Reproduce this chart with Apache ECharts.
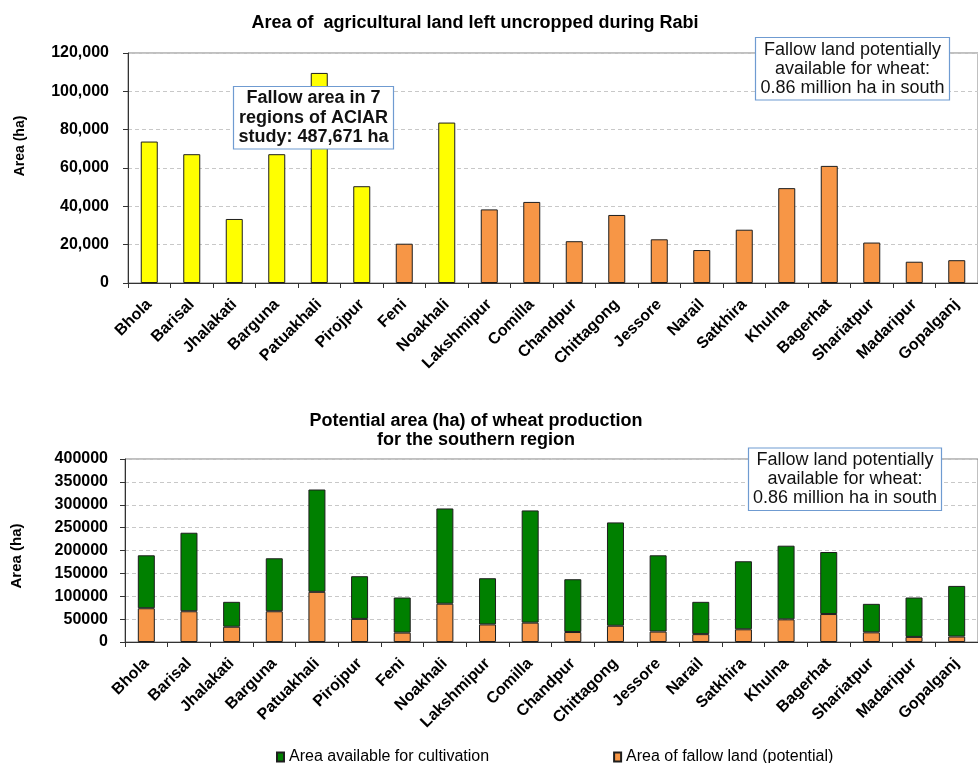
<!DOCTYPE html>
<html>
<head>
<meta charset="utf-8">
<title>Fallow land and potential wheat area, southern Bangladesh</title>
<script src="https://cdn.jsdelivr.net/npm/echarts@6/dist/echarts.min.js"></script>
<style>
  html, body { margin: 0; padding: 0; background: #fff; }
  #chart { width: 978px; height: 763px; }
</style>
</head>
<body>
<div id="chart"></div>
<script>
// Districts of the southern region
const regions = ['Bhola', 'Barisal', 'Jhalakati', 'Barguna', 'Patuakhali', 'Pirojpur', 'Feni',
  'Noakhali', 'Lakshmipur', 'Comilla', 'Chandpur', 'Chittagong', 'Jessore', 'Narail',
  'Satkhira', 'Khulna', 'Bagerhat', 'Shariatpur', 'Madaripur', 'Gopalganj'];

// Districts covered by the ACIAR study (highlighted in yellow)
const aciarRegions = ['Bhola', 'Barisal', 'Jhalakati', 'Barguna', 'Patuakhali', 'Pirojpur', 'Noakhali'];

// Agricultural land left uncropped during Rabi (ha)
const fallowArea = [73800, 67200, 33400, 67200, 109600, 50500, 20500, 83700, 38400, 42300,
  21800, 35500, 22800, 17200, 27800, 49500, 61100, 21100, 11100, 11900];

// Additional area available for cultivation (ha), stacked above the fallow area
const cultivableArea = [115700, 171600, 54400, 115800, 223700, 93300, 76700, 208200, 101000, 245300,
  115400, 225900, 166700, 70600, 148700, 161000, 135600, 62300, 86100, 110700];

// Value-axis ranges
const topAxis = { max: 120000, interval: 20000 };
const bottomAxis = { max: 400000, interval: 50000 };

const FONT = '"Liberation Sans", Arial, sans-serif';
const YELLOW = '#ffff00';
const ORANGE = '#f79646';
const GREEN = '#008000';
const BAR_BORDER = '#1e1e1e';

const chart = echarts.init(document.getElementById('chart'), null, { renderer: 'canvas' });

function categoryAxis(gridIndex) {
  return {
    type: 'category',
    gridIndex: gridIndex,
    data: regions,
    boundaryGap: true,
    axisLine: { show: true, lineStyle: { color: '#333', width: 1 } },
    axisTick: { show: true, length: 5, lineStyle: { color: '#333' } },
    axisLabel: {
      interval: 0, rotate: 45, margin: 19,
      fontFamily: FONT, fontSize: 16, fontWeight: 'bold', color: '#000'
    },
    splitLine: { show: false }
  };
}

function valueAxis(gridIndex, range, margin, formatter) {
  return {
    type: 'value',
    gridIndex: gridIndex,
    min: 0, max: range.max, interval: range.interval,
    axisLine: { show: true, lineStyle: { color: '#333', width: 1 } },
    axisTick: { show: true, length: 5, lineStyle: { color: '#333' } },
    axisLabel: {
      margin: margin, formatter: formatter,
      fontFamily: FONT, fontSize: 16, fontWeight: 'bold', color: '#000'
    },
    splitLine: { show: true, lineStyle: { color: '#c8c8c8', type: [4, 3], width: 1 } }
  };
}

function noteBox(x, y, w, h, lines, bold, lineHeight) {
  return {
    type: 'group', z: 100,
    children: [
      {
        type: 'rect', z: 100,
        shape: { x: x, y: y, width: w, height: h },
        style: { fill: '#fff', stroke: '#6f9bd1', lineWidth: 1.2 }
      },
      {
        type: 'text', z: 101,
        x: x + w / 2, y: y + h / 2,
        style: {
          text: lines.join('\n'),
          font: (bold ? 'bold ' : '') + '18px ' + FONT,
          fill: '#111',
          lineHeight: lineHeight,
          align: 'center', verticalAlign: 'middle',
          textAlign: 'center', textVerticalAlign: 'middle'
        }
      }
    ]
  };
}

function axisName(x, y, size) {
  return {
    type: 'text', z: 100,
    x: x, y: y, rotation: Math.PI / 2,
    style: {
      text: 'Area (ha)',
      font: 'bold ' + size + 'px ' + FONT,
      fill: '#000',
      align: 'center', verticalAlign: 'middle',
      textAlign: 'center', textVerticalAlign: 'middle'
    }
  };
}

const fallowTopData = regions.map(function (name, i) {
  return {
    value: fallowArea[i],
    itemStyle: { color: aciarRegions.indexOf(name) >= 0 ? YELLOW : ORANGE }
  };
});

const option = {
  animation: false,
  backgroundColor: '#fff',
  title: [
    {
      text: 'Area of  agricultural land left uncropped during Rabi',
      left: 475, top: 13, textAlign: 'center', padding: 0,
      textStyle: { fontFamily: FONT, fontSize: 18, fontWeight: 'bold', color: '#000', lineHeight: 20 }
    },
    {
      text: 'Potential area (ha) of wheat production\nfor the southern region',
      left: 476, top: 412, textAlign: 'center', padding: 0,
      textStyle: { fontFamily: FONT, fontSize: 18, fontWeight: 'bold', color: '#000', lineHeight: 19 }
    }
  ],
  grid: [
    { left: 128, top: 53, right: -10, height: 230, show: true, borderColor: '#808080', borderWidth: 1, backgroundColor: 'transparent' },
    { left: 125, top: 459, right: -10, height: 183, show: true, borderColor: '#808080', borderWidth: 1, backgroundColor: 'transparent' }
  ],
  xAxis: [categoryAxis(0), categoryAxis(1)],
  yAxis: [
    valueAxis(0, topAxis, 19, function (v) { return v.toLocaleString('en-US'); }),
    valueAxis(1, bottomAxis, 17, function (v) { return String(v); })
  ],
  legend: {
    data: ['Area available for cultivation', 'Area of fallow land (potential)'],
    left: 271, top: 744,
    icon: 'rect', itemWidth: 7, itemHeight: 9, itemGap: 124,
    textStyle: { fontFamily: FONT, fontSize: 16, color: '#000' },
    selectedMode: false
  },
  series: [
    {
      name: 'Fallow area', type: 'bar',
      xAxisIndex: 0, yAxisIndex: 0,
      barWidth: 17,
      itemStyle: { borderColor: BAR_BORDER, borderWidth: 1 },
      data: fallowTopData
    },
    {
      name: 'Area of fallow land (potential)', type: 'bar',
      xAxisIndex: 1, yAxisIndex: 1, stack: 'wheat',
      barWidth: 17,
      itemStyle: { color: ORANGE, borderColor: BAR_BORDER, borderWidth: 1 },
      data: fallowArea
    },
    {
      name: 'Area available for cultivation', type: 'bar',
      xAxisIndex: 1, yAxisIndex: 1, stack: 'wheat',
      barWidth: 17,
      itemStyle: { color: GREEN, borderColor: BAR_BORDER, borderWidth: 1 },
      data: cultivableArea
    }
  ],
  graphic: [
    axisName(20, 146, 14),
    axisName(17, 556, 15),
    noteBox(233.5, 86.5, 160, 62.5, ['Fallow area in 7', 'regions of ACIAR', 'study: 487,671 ha'], true, 19.5),
    noteBox(755.5, 37.5, 194, 62.5, ['Fallow land potentially', 'available for wheat:', '0.86 million ha in south'], false, 19.2),
    noteBox(748.5, 448, 193, 62.5, ['Fallow land potentially', 'available for wheat:', '0.86 million ha in south'], false, 19)
  ]
};

chart.setOption(option);
</script>
</body>
</html>
